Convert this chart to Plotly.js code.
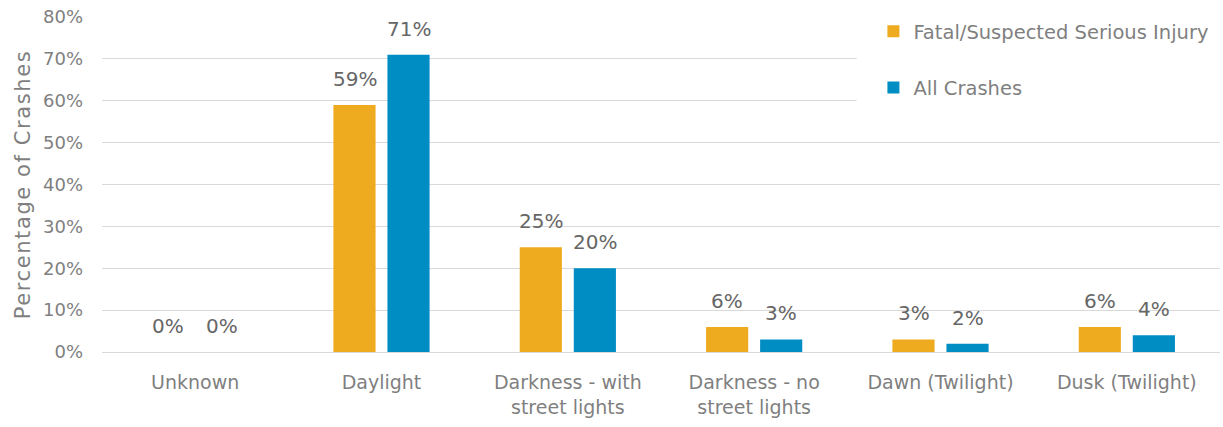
<!DOCTYPE html>
<html>
<head>
<meta charset="utf-8">
<script src="https://cdn.plot.ly/plotly-3.0.1.min.js"></script>
<style>
  html, body { margin: 0; padding: 0; background: #ffffff; }
  #chart { width: 1223px; height: 427px; }
  /* wider tracking for the axis title */
  #chart .ytitle { letter-spacing: 1.6px; }
</style>
</head>
<body>
<div id="chart"></div>
<script>
// Light conditions for crashes
const categories = [
  'Unknown',
  'Daylight',
  'Darkness - with<br>street lights',
  'Darkness - no<br>street lights',
  'Dawn (Twilight)',
  'Dusk (Twilight)'
];
const fatalSeriousPct = [0, 59, 25, 6, 3, 6];
const allCrashesPct   = [0, 71, 20, 3, 2, 4];
const seriesNames = ['Fatal/Suspected Serious Injury', 'All Crashes'];
const seriesColors = ['#EEAB1F', '#008DC3'];
const yTickVals = [0, 10, 20, 30, 40, 50, 60, 70, 80];

const FONT = 'DejaVu Sans, sans-serif';
const AXIS_GREY = '#7f7f7f';
const LABEL_GREY = '#666666';

// half the width of one bar slot inside a category group, in px
const SLOT_OFFSET = 27;

function barTrace(name, values, color, group) {
  return {
    type: 'bar',
    name: name,
    x: categories,
    y: values,
    legendgroup: group,
    marker: { color: color },
    hoverinfo: 'skip'
  };
}

const data = [
  barTrace(seriesNames[0], fatalSeriousPct, seriesColors[0], 'a'),
  barTrace(seriesNames[1], allCrashesPct, seriesColors[1], 'b')
];

// value labels above each bar
function valueLabels(values, xshift) {
  return values.map((v, i) => ({
    x: categories[i],
    y: v,
    xref: 'x', yref: 'y',
    text: v + '%',
    showarrow: false,
    xanchor: 'center',
    yanchor: 'bottom',
    xshift: xshift,
    yshift: 12,
    font: { family: FONT, size: 20, color: LABEL_GREY }
  }));
}

const annotations = valueLabels(fatalSeriousPct, -SLOT_OFFSET)
  .concat(valueLabels(allCrashesPct, SLOT_OFFSET));

const layout = {
  width: 1223,
  height: 427,
  margin: { l: 102, r: 3, t: 17, b: 75, autoexpand: false },
  paper_bgcolor: '#ffffff',
  plot_bgcolor: '#ffffff',
  font: { family: FONT, color: AXIS_GREY },
  barmode: 'group',
  bargap: 0.42,
  bargroupgap: 0.22,
  showlegend: true,
  legend: {
    x: 0.69, xanchor: 'left',
    y: 1.015, yanchor: 'top',
    bgcolor: 'rgba(0,0,0,0)',
    font: { family: FONT, size: 19.5, color: AXIS_GREY },
    traceorder: 'grouped',
    tracegroupgap: 28,
    itemwidth: 30
  },
  // white panel behind the legend, masking the gridlines there
  shapes: [{
    type: 'rect',
    layer: 'above',
    xref: 'paper', yref: 'paper',
    x0: 0.675, x1: 1.01,
    y0: 0.68, y1: 1.06,
    fillcolor: '#ffffff',
    line: { width: 0 }
  }],
  annotations: annotations,
  xaxis: {
    type: 'category',
    tickfont: { family: FONT, size: 19, color: AXIS_GREY },
    ticklabelstandoff: 17,
    showline: false,
    showgrid: false,
    ticks: ''
  },
  yaxis: {
    range: [0, 80],
    tickvals: yTickVals,
    ticktext: yTickVals.map(v => v + '%'),
    tickfont: { family: FONT, size: 18, color: AXIS_GREY },
    ticklabelstandoff: 18,
    showgrid: true,
    gridcolor: '#d9d9d9',
    gridwidth: 1,
    zeroline: true,
    zerolinecolor: '#d9d9d9',
    zerolinewidth: 1,
    ticks: '',
    title: {
      text: 'Percentage of Crashes',
      font: { family: FONT, size: 21, color: AXIS_GREY },
      standoff: 6
    }
  }
};

Plotly.newPlot('chart', data, layout, { displayModeBar: false, staticPlot: true });
</script>
</body>
</html>
